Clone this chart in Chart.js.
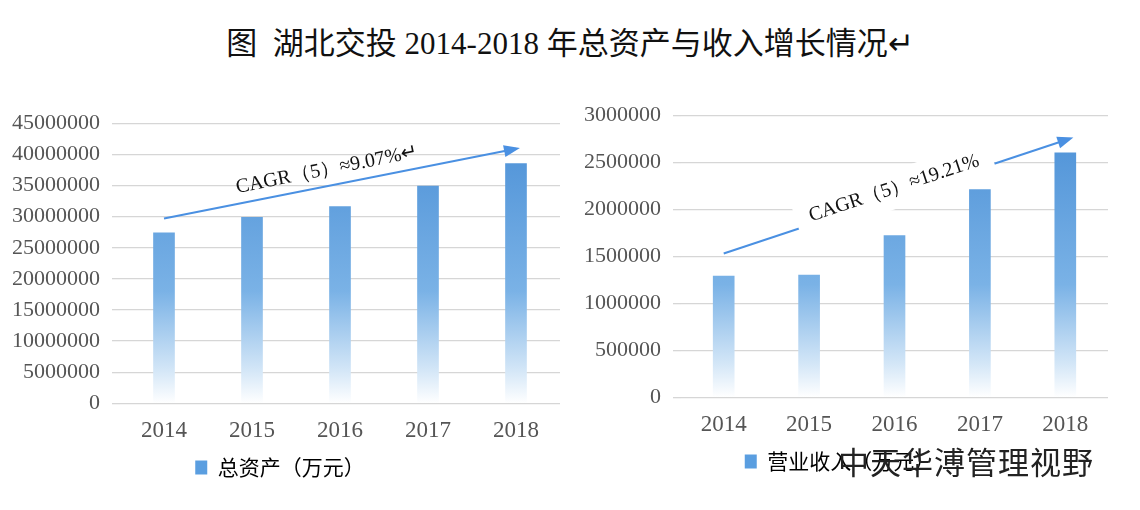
<!DOCTYPE html>
<html>
<head>
<meta charset="utf-8">
<script src="https://cdn.jsdelivr.net/npm/chart.js@4"></script>
<style>
  body{margin:0;background:#fff;width:1140px;height:510px;position:relative;overflow:hidden;font-family:"Noto Sans CJK SC",sans-serif}
  #title{position:absolute;top:18px;left:0;width:1140px;text-align:center;font-size:31px;color:#111;font-family:"Liberation Serif","Noto Sans CJK SC",serif}
  .box{position:absolute}
  #wm{position:absolute;left:838px;top:438px;font-size:31px;color:#222;letter-spacing:1px}
</style>
</head>
<body>
<div id="title">图&nbsp; 湖北交投 2014-2018 年总资产与收入增长情况↵</div>
<div class="box" style="left:0;top:98px;width:572px;height:390px"><canvas id="c1"></canvas></div>
<div class="box" style="left:572px;top:90px;width:548px;height:392px"><canvas id="c2"></canvas></div>
<div id="wm">中天华溥管理视野</div>
<script>
const years = ['2014', '2015', '2016', '2017', '2018'];
const totalAssets = [27400000, 29900000, 31600000, 34900000, 38500000];
const revenue = [1290000, 1300000, 1720000, 2210000, 2600000];
const assetsLabel = '总资产（万元）';
const revenueLabel = '营业收入（万元）';
const assetsCagr = 'CAGR（5）≈9.07%↵';
const revenueCagr = 'CAGR（5）≈19.21%';
// arrow ends as [category index, value]
const assetsArrow = [[0, 29700000], [4, 40900000]];
const revenueArrow = [[0, 1530000], [4.05, 2750000]];

function barFill(ctx){
    const area = ctx.chart.chartArea;
    if(!area) return '#5b9bd5';
    const g = ctx.chart.ctx.createLinearGradient(0, area.top, 0, area.bottom);
    g.addColorStop(0, '#4a8fd6');
    g.addColorStop(0.6, '#7ab2e6');
    g.addColorStop(0.88, '#d3e6f7');
    g.addColorStop(1, '#ffffff');
    return g;
}

function arrowPlugin(ends, text, gap){
    return {
        id: 'cagrArrow',
        afterDatasetsDraw(chart){
            const c = chart.ctx, xs = chart.scales.x, ys = chart.scales.y;
            const px = i => xs.getPixelForValue(0) + i * (xs.getPixelForValue(1) - xs.getPixelForValue(0));
            const x1 = px(ends[0][0]), y1 = ys.getPixelForValue(ends[0][1]);
            const x2 = px(ends[1][0]), y2 = ys.getPixelForValue(ends[1][1]);
            const ang = Math.atan2(y2 - y1, x2 - x1);
            c.save();
            c.strokeStyle = '#4a90e2'; c.fillStyle = '#4a90e2'; c.lineWidth = 2;
            c.beginPath(); c.moveTo(x1, y1); c.lineTo(x2, y2); c.stroke();
            c.beginPath();
            c.moveTo(x2 + 4 * Math.cos(ang), y2 + 4 * Math.sin(ang));
            c.lineTo(x2 - 12 * Math.cos(ang) + 6 * Math.sin(ang), y2 - 12 * Math.sin(ang) - 6 * Math.cos(ang));
            c.lineTo(x2 - 12 * Math.cos(ang) - 6 * Math.sin(ang), y2 - 12 * Math.sin(ang) + 6 * Math.cos(ang));
            c.closePath(); c.fill();
            const mx = (x1 + x2) / 2, my = (y1 + y2) / 2;
            c.translate(mx, my); c.rotate(ang);
            c.font = '20px "Liberation Serif", serif';
            const w = c.measureText(text).width;
            if(gap){
                c.fillStyle = '#fff';
                c.fillRect(-w / 2 - 14, -26, w + 28, 38);
                c.fillStyle = '#111'; c.textAlign = 'center'; c.textBaseline = 'middle';
                c.fillText(text, 0, -8);
            } else {
                c.fillStyle = '#111'; c.textAlign = 'center'; c.textBaseline = 'bottom';
                c.fillText(text, -10, -6);
            }
            c.restore();
        }
    };
}

function makeChart(id, data, label, max, step, plugin){
    new Chart(document.getElementById(id), {
        type: 'bar',
        data: {
            labels: years,
            datasets: [{label: label, data: data, backgroundColor: barFill, barThickness: 21}]
        },
        options: {
            responsive: true,
            maintainAspectRatio: false,
            animation: false,
            layout: {padding: {right: 12, top: 8}},
            scales: {
                x: {
                    grid: {display: false},
                    border: {display: false},
                    ticks: {color: '#555', font: {family: '"Liberation Serif", serif', size: 23}, padding: 6}
                },
                y: {
                    min: 0, max: max,
                    ticks: {stepSize: step, color: '#555', font: {family: '"Liberation Serif", serif', size: 22}, padding: 12,
                        callback: v => String(v)},
                    grid: {color: '#d6d6d6', lineWidth: 1.3},
                    border: {display: false}
                }
            },
            plugins: {
                legend: {
                    position: 'bottom',
                    labels: {
                        boxWidth: 12, boxHeight: 14, color: '#555', padding: 6,
                        font: {size: 21, family: '"Noto Sans CJK SC", sans-serif'},
                        generateLabels: ch => [{text: label, fillStyle: '#5a9ee0', strokeStyle: '#5a9ee0', lineWidth: 0, datasetIndex: 0}]
                    }
                },
                tooltip: {enabled: false}
            }
        },
        plugins: [plugin]
    });
}

makeChart('c1', totalAssets, assetsLabel, 45000000, 5000000, arrowPlugin(assetsArrow, assetsCagr, false));
makeChart('c2', revenue, revenueLabel, 3000000, 500000, arrowPlugin(revenueArrow, revenueCagr, true));
</script>
</body>
</html>
